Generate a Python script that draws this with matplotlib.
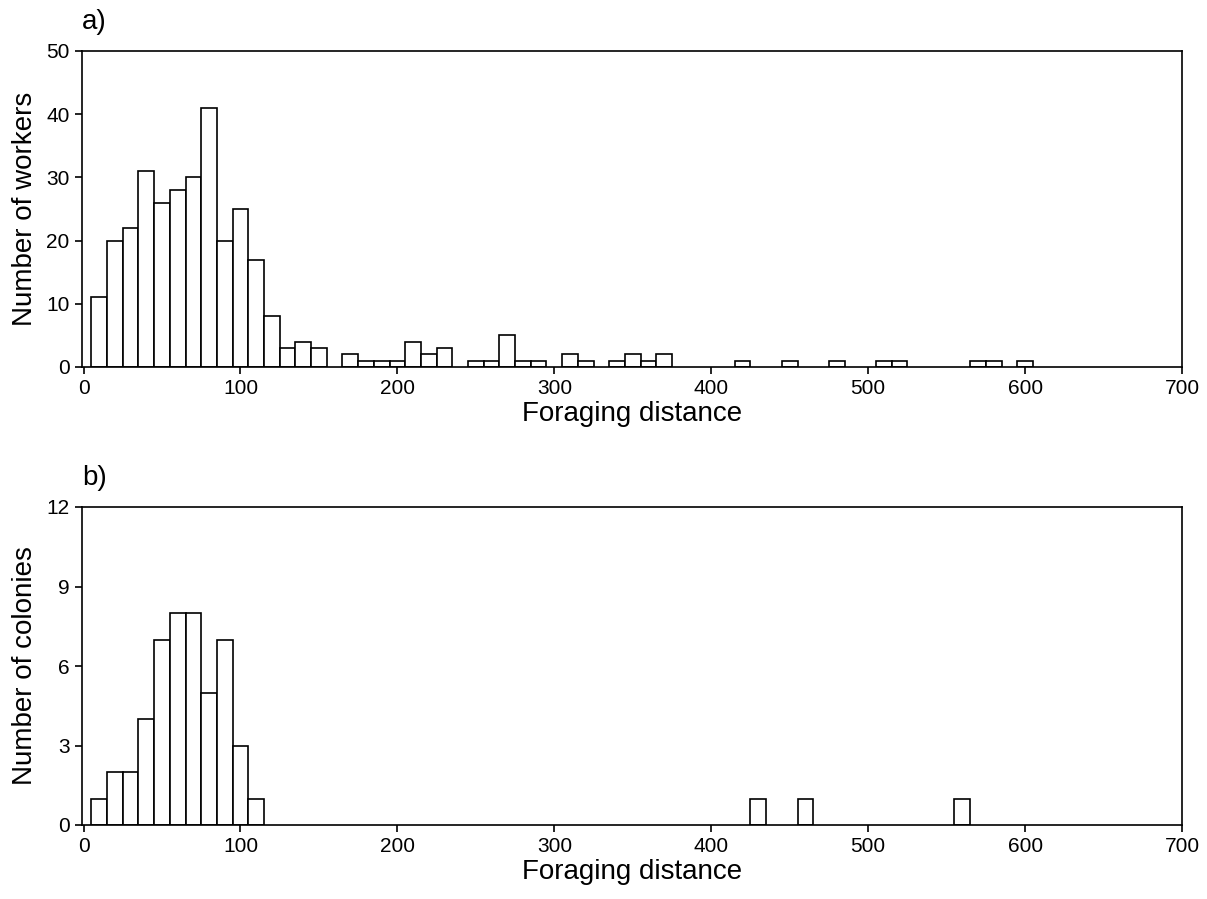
import numpy as np
import matplotlib
matplotlib.use("Agg")
import matplotlib.pyplot as plt

plt.rcParams['font.family'] = ['Liberation Sans', 'DejaVu Sans']

# Histogram bins (width 10, starting at 5)
bin_start = 5
bin_width = 10

workers_counts = [11, 20, 22, 31, 26, 28, 30, 41, 20, 25,
                  17, 8, 3, 4, 3, 0, 2, 1, 1, 1,
                  4, 2, 3, 0, 1, 1, 5, 1, 1, 0,
                  2, 1, 0, 1, 2, 1, 2, 0, 0, 0,
                  0, 1, 0, 0, 1, 0, 0, 1, 0, 0,
                  1, 1, 0, 0, 0, 0, 1, 1, 0, 1]

colonies_counts = [1, 2, 2, 4, 7, 8, 8, 5, 7, 3,
                   1, 0, 0, 0, 0, 0, 0, 0, 0, 0,
                   0, 0, 0, 0, 0, 0, 0, 0, 0, 0,
                   0, 0, 0, 0, 0, 0, 0, 0, 0, 0,
                   0, 0, 1, 0, 0, 1, 0, 0, 0, 0,
                   0, 0, 0, 0, 0, 1]

x_ticks = [0, 100, 200, 300, 400, 500, 600, 700]
y_ticks_a = [0, 10, 20, 30, 40, 50]
y_ticks_b = [0, 3, 6, 9, 12]

panels = [
    dict(counts=workers_counts, yticks=y_ticks_a, ylabel="Number of workers", tag="a)"),
    dict(counts=colonies_counts, yticks=y_ticks_b, ylabel="Number of colonies", tag="b)"),
]

W, H = 1207, 899
fig = plt.figure(figsize=(W / 100, H / 100), dpi=100)

boxes = [(82, 51, 1182, 367), (82, 507, 1182, 825)]

for (l, t, r, b), p in zip(boxes, panels):
    ax = fig.add_axes([l / W, 1 - b / H, (r - l) / W, (b - t) / H])
    counts = np.array(p["counts"])
    lefts = bin_start + bin_width * np.arange(len(counts))
    nz = counts > 0
    ax.bar(lefts[nz], counts[nz], width=bin_width, align='edge',
           facecolor='white', edgecolor='black', linewidth=1.2)
    ax.set_xlim(-1, 700)
    ax.set_ylim(0, p["yticks"][-1])
    ax.set_xticks(x_ticks)
    ax.set_yticks(p["yticks"])
    ax.tick_params(direction='out', length=5, width=1.2, labelsize=15,
                   colors='black', pad=4)
    for s in ax.spines.values():
        s.set_linewidth(1.2)
    ax.set_xlabel("Foraging distance", fontsize=20, labelpad=2)
    ax.set_ylabel(p["ylabel"], fontsize=20, labelpad=6)
    ax.text(0.0, 1.05, p["tag"], transform=ax.transAxes, fontsize=20,
            ha='left', va='bottom')

fig.savefig("out.png", dpi=100)
